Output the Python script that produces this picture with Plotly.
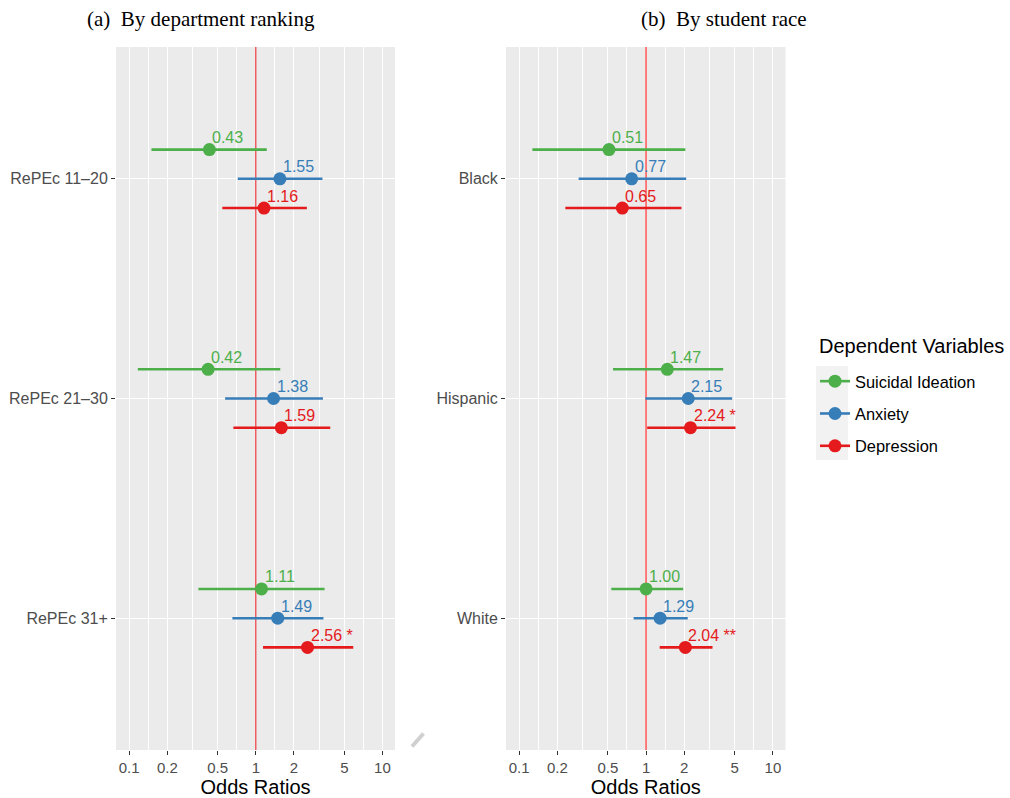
import math
import plotly.graph_objects as go

W, H = 1010, 798

series = ["Suicidal Ideation", "Anxiety", "Depression"]
colors = ["#4DAF4A", "#377EB8", "#E41A1C"]
offsets = [-0.133, 0.0, 0.133]

groups_a = ["RePEc 11–20", "RePEc 21–30", "RePEc 31+"]
groups_b = ["Black", "Hispanic", "White"]

# Panel (a): by department ranking
a_or = [[0.43, 0.42, 1.11], [1.55, 1.38, 1.49], [1.16, 1.59, 2.56]]
a_lo = [[0.15, 0.117, 0.352], [0.72, 0.572, 0.653], [0.544, 0.665, 1.14]]
a_hi = [[1.22, 1.56, 3.49], [3.36, 3.39, 3.42], [2.53, 3.87, 5.88]]
a_sig = [["", "", ""], ["", "", ""], ["", "", "*"]]

# Panel (b): by student race
b_or = [[0.51, 1.47, 1.00], [0.77, 2.15, 1.29], [0.65, 2.24, 2.04]]
b_lo = [[0.127, 0.549, 0.532], [0.294, 0.987, 0.798], [0.231, 1.02, 1.28]]
b_hi = [[2.04, 4.05, 1.96], [2.07, 4.77, 2.13], [1.90, 5.07, 3.34]]
b_sig = [["", "", ""], ["", "", ""], ["", "*", "**"]]

xticks = [0.1, 0.2, 0.5, 1, 2, 5, 10]
xticktext = ["0.1", "0.2", "0.5", "1", "2", "5", "10"]
xminor = [0.1414, 0.3162, 0.7071, 1.4142, 3.1623, 7.0711]

fig = go.Figure()
annotations = []

def panel(xref, yref, groups, ors, los, his, sigs, refcolor, refwidth):
    # reference line at OR = 1
    fig.add_trace(go.Scatter(x=[1, 1], y=[0.4, 3.6], mode="lines",
                             line=dict(color=refcolor, width=refwidth),
                             xaxis=xref, yaxis=yref, showlegend=False, hoverinfo="skip"))
    for s in range(len(series)):
        xs, ys = [], []
        for g in range(len(groups)):
            yy = g + 1 + offsets[s]
            xs += [los[s][g], his[s][g], None]
            ys += [yy, yy, None]
        fig.add_trace(go.Scatter(x=xs, y=ys, mode="lines",
                                 line=dict(color=colors[s], width=2.6),
                                 xaxis=xref, yaxis=yref, showlegend=False, hoverinfo="skip"))
        py = [g + 1 + offsets[s] for g in range(len(groups))]
        fig.add_trace(go.Scatter(x=ors[s], y=py, mode="markers",
                                 marker=dict(color=colors[s], size=13),
                                 xaxis=xref, yaxis=yref, showlegend=False))
        for g in range(len(groups)):
            txt = f"{ors[s][g]:.2f}" + ((" " + sigs[s][g]) if sigs[s][g] else "")
            annotations.append(dict(x=math.log10(ors[s][g]), y=g + 1 + offsets[s],
                                    xref=xref, yref=yref,
                                    text=txt, showarrow=False, xanchor="left", yanchor="middle",
                                    xshift=1, yshift=12,
                                    font=dict(size=16, color=colors[s])))

panel("x", "y", groups_a, a_or, a_lo, a_hi, a_sig, "#E8141A", 1)
panel("x2", "y2", groups_b, b_or, b_lo, b_hi, b_sig, "#FF6F6F", 1.8)

# legend entries
for s in range(len(series)):
    fig.add_trace(go.Scatter(x=[None], y=[None], mode="lines+markers", name=series[s],
                             line=dict(color=colors[s], width=2.6),
                             marker=dict(color=colors[s], size=13),
                             legendgroup=series[s]))

xcommon = dict(type="log", range=[-1.104, 1.099], tickvals=xticks, ticktext=xticktext,
               showgrid=True, gridcolor="white", gridwidth=1.1, zeroline=False, showline=False,
               ticks="outside", ticklen=4, tickcolor="#333333", tickwidth=1,
               tickfont=dict(size=15, color="#4D4D4D"),
               minor=dict(tickvals=xminor, showgrid=True, gridcolor="white", gridwidth=0.5, ticks=""),
               title=dict(text="Odds Ratios", font=dict(size=20, color="black"), standoff=1),
               fixedrange=True)
ycommon = dict(range=[3.6, 0.4], tickvals=[1, 2, 3], showgrid=True, gridcolor="white",
               gridwidth=1.1, zeroline=False, showline=False, ticks="outside", ticklen=4,
               tickcolor="#333333", tickwidth=1, tickfont=dict(size=16, color="#4D4D4D"),
               domain=[1 - 750 / H, 1 - 47 / H], fixedrange=True)

fig.update_layout(
    width=W, height=H, autosize=False,
    margin=dict(l=0, r=0, t=0, b=0),
    paper_bgcolor="white", plot_bgcolor="#EBEBEB",
    font=dict(family="Liberation Sans, Arial, sans-serif"),
    xaxis=dict(domain=[116 / W, 395 / W], anchor="y", **xcommon),
    xaxis2=dict(domain=[506 / W, 785.5 / W], anchor="y2", **xcommon),
    yaxis=dict(anchor="x", ticktext=groups_a, **ycommon),
    yaxis2=dict(anchor="x2", ticktext=groups_b, **ycommon),
    showlegend=True,
    legend=dict(x=815 / W, y=1 - 364 / H, xanchor="left", yanchor="top",
                bgcolor="rgba(0,0,0,0)", font=dict(size=16.4, color="black"),
                tracegroupgap=8, itemwidth=30),
    annotations=annotations + [
        dict(x=817 / W, y=1 - 346 / H, xref="paper", yref="paper", showarrow=False,
             text="Dependent Variables", xanchor="left", yanchor="middle",
             font=dict(size=20, color="black")),
        dict(x=201 / W, y=1 - 19 / H, xref="paper", yref="paper", showarrow=False,
             text="(a)\u00a0 By department ranking", xanchor="center", yanchor="middle",
             font=dict(family="Liberation Serif, Times New Roman, serif", size=21, color="black")),
        dict(x=724 / W, y=1 - 19 / H, xref="paper", yref="paper", showarrow=False,
             text="(b)\u00a0 By student race", xanchor="center", yanchor="middle",
             font=dict(family="Liberation Serif, Times New Roman, serif", size=21, color="black")),
    ],
    shapes=[
        dict(type="rect", xref="paper", yref="paper", x0=816 / W, x1=848 / W,
             y0=1 - 460 / H, y1=1 - 366 / H, fillcolor="#F2F2F2", line=dict(width=0), layer="below"),
        dict(type="line", xref="paper", yref="paper", x0=412 / W, y0=1 - 746.5 / H,
             x1=423.5 / W, y1=1 - 733.5 / H, line=dict(color="#D0D0D0", width=4)),
    ],
)

fig.write_html("out.html")
